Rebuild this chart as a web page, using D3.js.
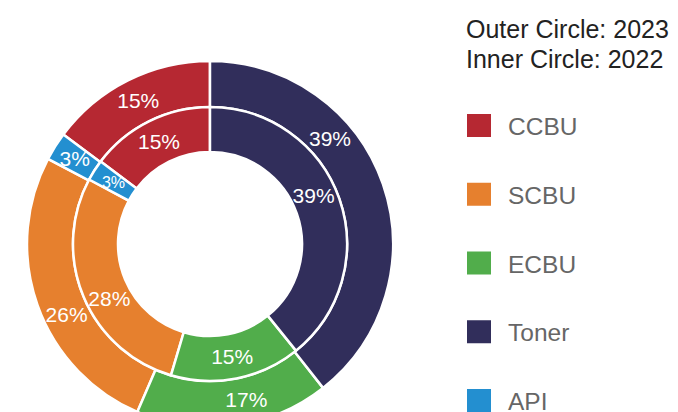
<!DOCTYPE html>
<html lang="en">
<head>
    <meta charset="UTF-8">
    <title>Business Unit Share</title>
    <script src="https://d3js.org/d3.v7.min.js"></script>
    <style>
        body { margin: 0; background: #fff; }
        text { font-family: "Liberation Sans", Arial, sans-serif; }
        .slice { stroke: #fff; stroke-width: 2.5px; }
        .pct { fill: #fff; text-anchor: middle; dominant-baseline: central; }
        .legend-title { fill: #222; font-size: 25px; }
        .legend-label { fill: #666; font-size: 24.5px; }
    </style>
</head>
<body>
    <script>
       // data (legend order), shares in percent
       var categories = ["CCBU", "SCBU", "ECBU", "Toner", "API"];
       var values2023 = [14.8, 26.2, 17.1, 39.4, 2.5];   // outer circle
       var values2022 = [14.7, 28.2, 15.4, 39.2, 2.5];   // inner circle
       // clockwise order of the slices, starting at 12 o'clock
       var ringOrder = ["Toner", "ECBU", "SCBU", "API", "CCBU"];
       var titleLines = ["Outer Circle: 2023", "Inner Circle: 2022"];

       var colors = d3.scaleOrdinal()
           .domain(categories)
           .range(["#b62832", "#e6802e", "#51ad4b", "#312e5b", "#238fd0"]);

       var width = 678, height = 412;
       var cx = 210, cy = 244;

       var svg = d3.select("body").append("svg")
           .attr("width", width)
           .attr("height", height);

       var chart = svg.append("g")
           .attr("transform", "translate(" + cx + "," + cy + ")");

       var pie = d3.pie()
           .value(function(d) { return d.value; })
           .sort(function(a, b) { return ringOrder.indexOf(a.name) - ringOrder.indexOf(b.name); });

       // some labels sit a bit up-slice in the original (radians)
       var rings = [
           {values: values2023, inner: 137, outer: 183, shift: {Toner: -0.39, ECBU: -0.1, SCBU: -0.12}},
           {values: values2022, inner: 92, outer: 137, shift: {Toner: -0.1, SCBU: -0.1}}
       ];

       rings.forEach(function(ring) {
           var data = categories.map(function(c, i) { return {name: c, value: ring.values[i]}; });
           var total = d3.sum(data, function(d) { return d.value; });
           var arcs = pie(data);
           var arc = d3.arc().innerRadius(ring.inner).outerRadius(ring.outer);
           var mid = (ring.inner + ring.outer) / 2;

           chart.append("g").selectAll("path")
               .data(arcs)
               .enter().append("path")
               .attr("class", "slice")
               .attr("d", arc)
               .attr("fill", function(d) { return colors(d.data.name); });

           // percentage labels, shrunk to fit thin slices
           chart.append("g").selectAll("text")
               .data(arcs)
               .enter().append("text")
               .attr("class", "pct")
               .attr("transform", function(d) {
                   var a = (d.startAngle + d.endAngle) / 2 + (ring.shift[d.data.name] || 0);
                   return "translate(" + (mid * Math.sin(a)) + "," + (-mid * Math.cos(a)) + ")";
               })
               .style("font-size", function(d) {
                   var arcLen = (d.endAngle - d.startAngle) * mid;
                   return Math.min(21, arcLen / 1.12) + "px";
               })
               .text(function(d) { return Math.round(d.data.value / total * 100) + "%"; });
       });

       // legend
       var legend = svg.append("g").attr("transform", "translate(466,0)");

       legend.selectAll(".legend-title")
           .data(titleLines)
           .enter().append("text")
           .attr("class", "legend-title")
           .attr("x", 0)
           .attr("y", function(d, i) { return 38 + i * 30; })
           .text(function(d) { return d; });

       var rowY = d3.scalePoint().domain(categories).range([126, 401]);

       var items = legend.selectAll(".item")
           .data(categories)
           .enter().append("g")
           .attr("class", "item")
           .attr("transform", function(d) { return "translate(0," + rowY(d) + ")"; });

       items.append("rect")
           .attr("x", 1)
           .attr("y", -12)
           .attr("width", 24)
           .attr("height", 23)
           .attr("fill", function(d) { return colors(d); });

       items.append("text")
           .attr("class", "legend-label")
           .attr("x", 42)
           .attr("y", 9)
           .text(function(d) { return d; });
    </script>
</body>
</html>
